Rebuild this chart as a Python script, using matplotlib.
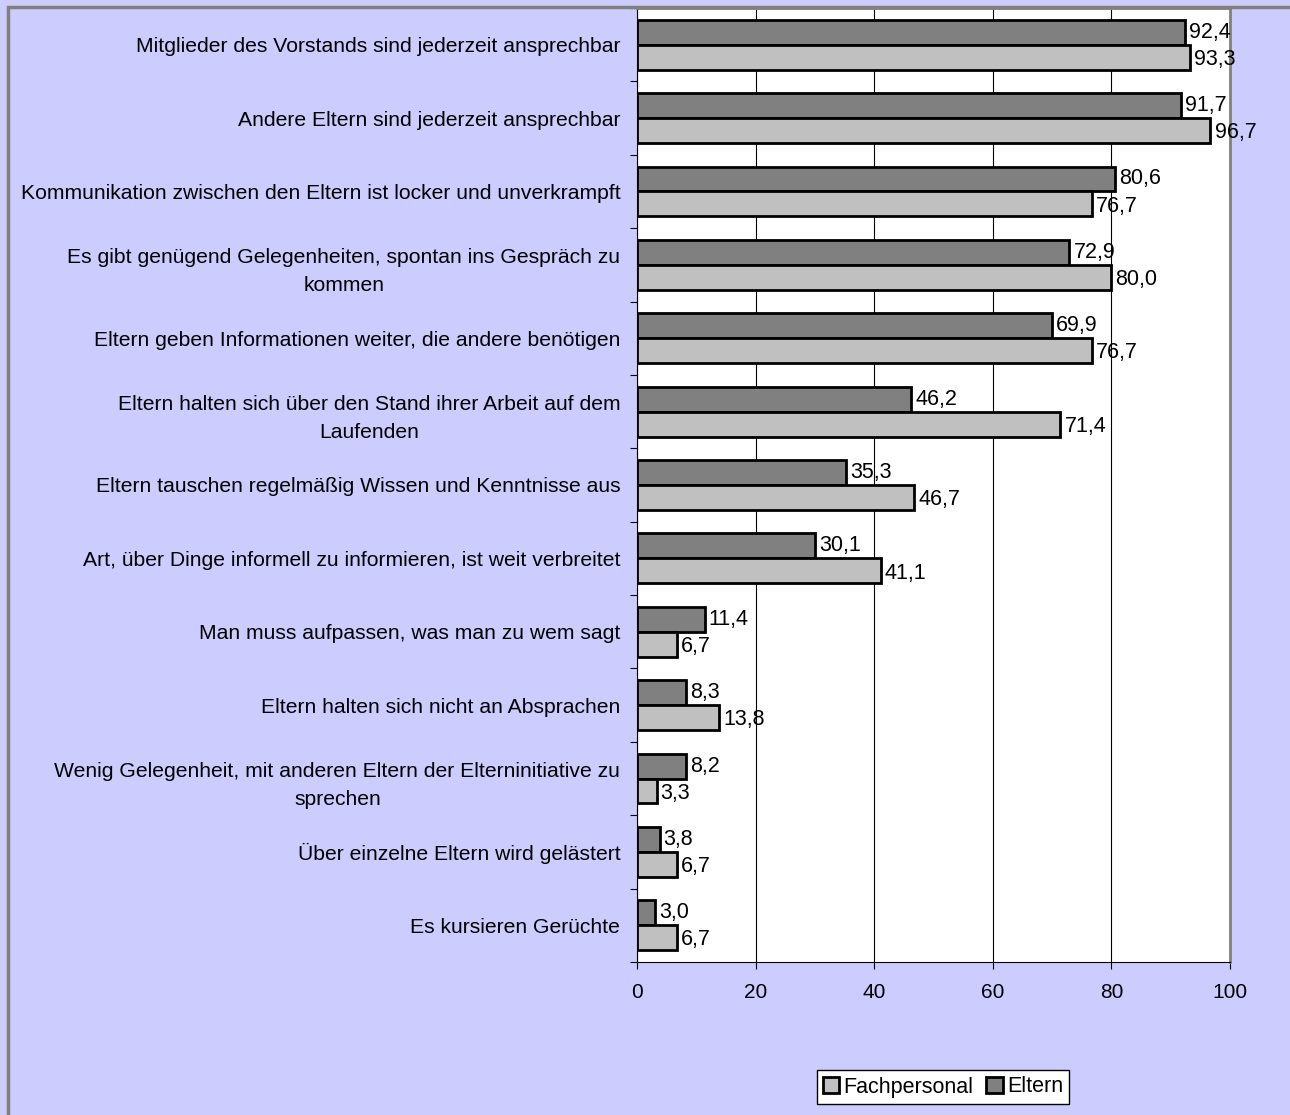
import numpy as np
import matplotlib
matplotlib.use('Agg')
import matplotlib.pyplot as plt
from matplotlib.patches import Rectangle

plt.rcParams['font.family'] = ['Liberation Sans', 'DejaVu Sans']

categories = [
    'Mitglieder des Vorstands sind jederzeit ansprechbar',
    'Andere Eltern sind jederzeit ansprechbar',
    'Kommunikation zwischen den Eltern ist locker und unverkrampft',
    'Es gibt genügend Gelegenheiten, spontan ins Gespräch zu\nkommen',
    'Eltern geben Informationen weiter, die andere benötigen',
    'Eltern halten sich über den Stand ihrer Arbeit auf dem\nLaufenden',
    'Eltern tauschen regelmäßig Wissen und Kenntnisse aus',
    'Art, über Dinge informell zu informieren, ist weit verbreitet',
    'Man muss aufpassen, was man zu wem sagt',
    'Eltern halten sich nicht an Absprachen',
    'Wenig Gelegenheit, mit anderen Eltern der Elterninitiative zu\nsprechen',
    'Über einzelne Eltern wird gelästert',
    'Es kursieren Gerüchte',
]
eltern = [92.4, 91.7, 80.6, 72.9, 69.9, 46.2, 35.3, 30.1, 11.4, 8.3, 8.2, 3.8, 3.0]
fachpersonal = [93.3, 96.7, 76.7, 80.0, 76.7, 71.4, 46.7, 41.1, 6.7, 13.8, 3.3, 6.7, 6.7]
xticks = [0, 20, 40, 60, 80, 100]

fig = plt.figure(figsize=(12.9, 11.15), dpi=100)
fig.patch.set_facecolor('#CCCCFF')
# grey chart-area frame
fig.patches.append(Rectangle((8 / 1290, -0.1), 1.2, (1115 - 7) / 1115 + 0.1,
                             transform=fig.transFigure, fill=False,
                             edgecolor='#808080', linewidth=2.5, zorder=0))

ax = fig.add_axes([637 / 1290, 153 / 1115, (1230 - 637) / 1290, (962 - 8) / 1115])
ax.set_facecolor('white')

n = len(categories)
y = np.arange(n)
h = 0.34
ax.barh(y - h / 2, eltern, height=h, color='#808080', edgecolor='black', linewidth=2, label='Eltern', zorder=3)
ax.barh(y + h / 2, fachpersonal, height=h, color='#C0C0C0', edgecolor='black', linewidth=2, label='Fachpersonal', zorder=3)

for i in range(n):
    ax.text(eltern[i] + 0.7, y[i] - h / 2, f'{eltern[i]:.1f}'.replace('.', ','),
            va='center', ha='left', fontsize=15.5, zorder=4)
    ax.text(fachpersonal[i] + 0.7, y[i] + h / 2 + 0.03, f'{fachpersonal[i]:.1f}'.replace('.', ','),
            va='center', ha='left', fontsize=15.5, zorder=4)

ax.set_xlim(0, 100)
ax.set_ylim(n - 0.5, -0.5)
ax.set_xticks(xticks)
ax.set_xticklabels([str(v) for v in xticks], fontsize=15)
ax.xaxis.grid(True, color='black', linewidth=0.8)
ax.set_axisbelow(True)

ax.set_yticks(np.arange(n + 1) - 0.5, minor=False)
ax.set_yticklabels([])
ax.set_yticks(y, minor=True)
ax.set_yticklabels(categories, minor=True, fontsize=15.2, ha='right',
                   multialignment='center', linespacing=1.6)
ax.tick_params(axis='y', which='minor', length=0, pad=12)
ax.tick_params(axis='y', which='major', length=5, direction='out')
ax.tick_params(axis='x', length=5, direction='out', pad=10)

for s in ['top', 'right']:
    ax.spines[s].set_color('#808080')
    ax.spines[s].set_linewidth(2)
ax.spines['left'].set_color('black')
ax.spines['bottom'].set_color('black')

handles, labels = ax.get_legend_handles_labels()
leg = fig.legend(handles[::-1], labels[::-1], loc='center', bbox_to_anchor=(943 / 1290, 1 - 1087 / 1115),
                 ncol=2, fontsize=15.5, frameon=True, fancybox=False, edgecolor='black', framealpha=1,
                 handlelength=0.75, handleheight=0.75, handletextpad=0.2, columnspacing=0.6,
                 borderpad=0.3)
leg.get_frame().set_linewidth(1)

fig.savefig('out.png', dpi=100, facecolor=fig.get_facecolor())
